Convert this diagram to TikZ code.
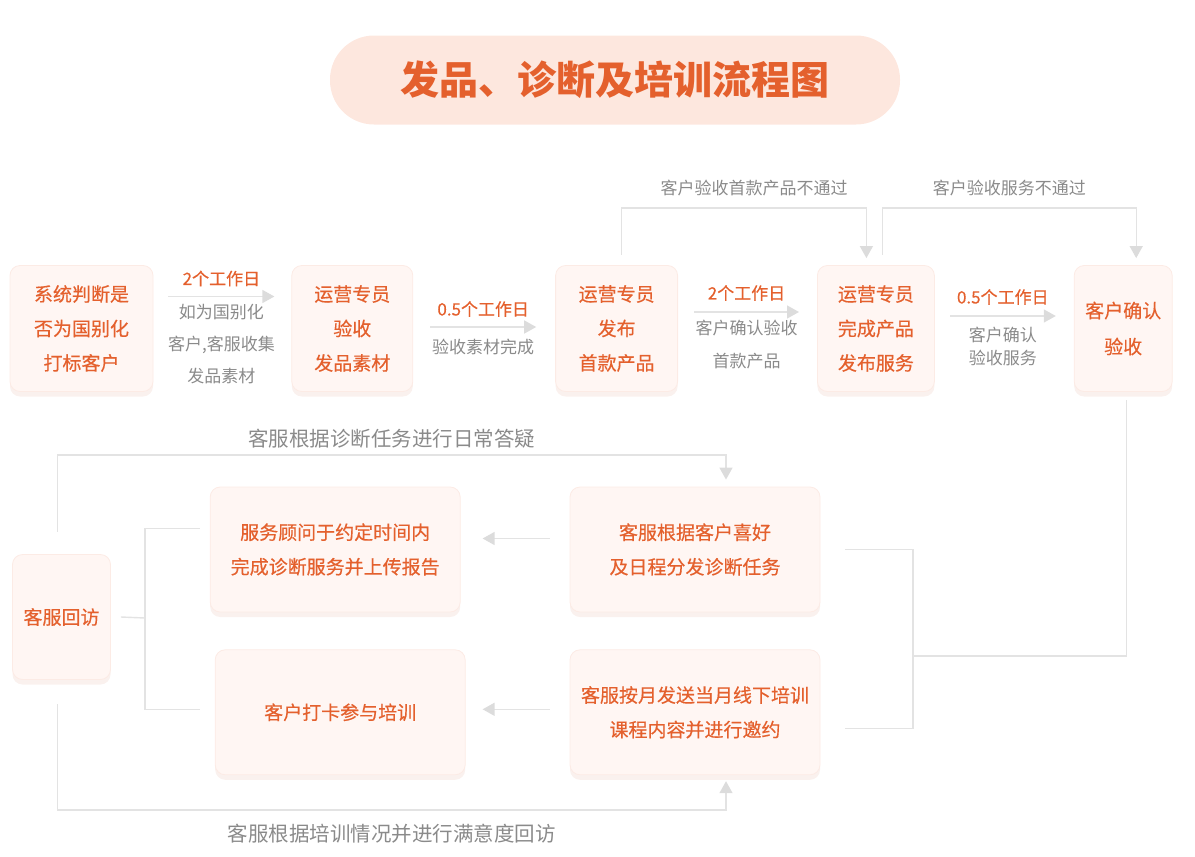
\documentclass[tikz,border=0pt]{standalone}
\usepackage{fontspec}
\setmainfont{Noto Sans CJK SC}
\newfontfamily\medfont{Noto Sans CJK SC}[FakeBold=0.4]
\usepackage{xcolor}
\usepackage{tikz}
\usetikzlibrary{arrows.meta,positioning,shadows}

\definecolor{orangetxt}{HTML}{E4602D}
\definecolor{boxfill}{HTML}{FFF6F3}
\definecolor{boxline}{HTML}{FCEBE5}
\definecolor{titlefill}{HTML}{FDE7DE}
\definecolor{linegrey}{HTML}{E3E3E3}
\definecolor{tipgrey}{HTML}{DCDCDC}
\definecolor{greytxt}{HTML}{8A8A8A}
\definecolor{shadowc}{HTML}{F7E8E3}

\begin{document}
\begin{tikzpicture}[x=1pt, y=-1pt,
  banner/.style={fill=titlefill, rounded corners=44pt, minimum width=570pt, minimum height=89pt, text=orangetxt, font={\bfseries\fontsize{39}{39}\selectfont}},
  task/.style={rounded corners=10pt, fill=boxfill, draw=boxline, line width=0.8pt, align=center, text=orangetxt, font={\medfont\fontsize{19}{34.5}\selectfont}, minimum height=126pt, inner sep=0pt, drop shadow={shadow xshift=0pt, shadow yshift=-5pt, fill=shadowc, opacity=0.6}},
  days/.style={text=orangetxt, inner sep=0pt, font={\medfont\fontsize{17}{20}\selectfont}},
  note/.style={text=greytxt, inner sep=0pt, align=center, font={\fontsize{17}{32}\selectfont}},
  loopnote/.style={text=greytxt, inner sep=0pt, font={\fontsize{20.5}{24}\selectfont}},
  flow/.style={-{Triangle[length=12pt, width=13pt, color=tipgrey]}, draw=linegrey, line width=1.4pt},
  link/.style={draw=linegrey, line width=1.4pt}
]
  \useasboundingbox (0,0) rectangle (1195,857);

  \node[banner] (title) at (615,80) {发品、诊断及培训流程图};

  \node[task, minimum width=143pt] (n_judge) at (81.5,328.5) {系统判断是\\否为国别化\\打标客户};
  \node[task, minimum width=121pt, right=138pt of n_judge] (n_check) {运营专员\\验收\\发品素材};
  \node[task, minimum width=122pt, right=142pt of n_check] (n_publish) {运营专员\\发布\\首款产品};
  \node[task, minimum width=117pt, right=139pt of n_publish] (n_finish) {运营专员\\完成产品\\发布服务};
  \node[task, minimum width=98pt, right=139pt of n_finish, font={\medfont\fontsize{19}{36}\selectfont}] (n_confirm) {客户确认\\验收};

  \node[task, minimum width=250pt, minimum height=125pt] (n_assign) at (695,549.5) {客服根据客户喜好\\及日程分发诊断任务};
  \node[task, minimum width=250pt, minimum height=125pt, below=37pt of n_assign] (n_invite) {客服按月发送当月线下培训\\课程内容并进行邀约};
  \node[task, minimum width=250pt, minimum height=125pt, left=109pt of n_assign] (n_report) {服务顾问于约定时间内\\完成诊断服务并上传报告};
  \node[task, minimum width=250pt, minimum height=125pt, left=104pt of n_invite] (n_train) {客户打卡参与培训};
  \node[task, minimum width=98pt, minimum height=125pt] (n_visit) at (61.5,617) {客服回访};

  \draw[flow] ([shift={(15,-32)}]n_judge.east) -- node[days, yshift=18pt] (d_1) {2个工作日} node[note, yshift=-48pt] (t_1) {如为国别化\\客户,客服收集\\发品素材} ([shift={(-17,-32)}]n_check.west);
  \draw[flow] ([shift={(17,-1.5)}]n_check.east) -- node[days, yshift=18pt] (d_2) {0.5个工作日} node[note, yshift=-20pt] (t_2) {验收素材完成} ([shift={(-19,-1.5)}]n_publish.west);
  \draw[flow] ([shift={(16,-16.5)}]n_publish.east) -- node[days, yshift=19pt] (d_3) {2个工作日} node[note, yshift=-32.5pt, font={\fontsize{17}{33}\selectfont}] (t_3) {客户确认验收\\首款产品} ([shift={(-18,-16.5)}]n_finish.west);
  \draw[flow] ([shift={(15,-12.5)}]n_finish.east) -- node[days, yshift=19pt] (d_4) {0.5个工作日} node[note, yshift=-30.5pt, font={\fontsize{17}{23}\selectfont}] (t_4) {客户确认\\验收服务} ([shift={(-18,-12.5)}]n_confirm.west);

  \draw[flow] ([shift={(5,-10)}]n_publish.north) -- ++(0,-47) -| node[note, pos=0.25, xshift=10pt, yshift=20pt] (f_1) {客户验收首款产品不通过} ([shift={(-9.5,-7)}]n_finish.north);
  \draw[flow] ([shift={(6.5,-10)}]n_finish.north) -- ++(0,-47) -| node[note, pos=0.25, yshift=20pt] (f_2) {客户验收服务不通过} ([shift={(13,-7)}]n_confirm.north);

  \coordinate (j_right) at (913,656);
  \draw[link] ([shift={(3,8)}]n_confirm.south) |- (j_right);
  \draw[link] ([xshift=25pt]n_assign.east) -| (j_right);
  \draw[link] ([shift={(25,16)}]n_invite.east) -| (j_right);

  \draw[flow] ([shift={(-20,-11)}]n_assign.west) -- ([shift={(22,-11)}]n_report.east);
  \draw[flow] ([shift={(-20,-3)}]n_invite.west) -- ([shift={(17,-3)}]n_train.east);

  \coordinate (j_left) at (145,618);
  \draw[link] ([xshift=10pt]n_visit.east) -- (j_left);
  \draw[link] ([shift={(-10,-21)}]n_report.west) -| (j_left);
  \draw[link] ([shift={(-15,-3)}]n_train.west) -| (j_left);

  \draw[flow] ([shift={(-4,-22)}]n_visit.north) -- ++(0,-77) -| node[loopnote, pos=0.25, yshift=16pt] (l_1) {客服根据诊断任务进行日常答疑} ([shift={(31,-7)}]n_assign.north);
  \draw[flow] ([shift={(-4,24)}]n_visit.south) -- ++(0,106) -| node[loopnote, pos=0.25, yshift=-24pt] (l_2) {客服根据培训情况并进行满意度回访} ([shift={(31,6)}]n_invite.south);
\end{tikzpicture}
\end{document}
